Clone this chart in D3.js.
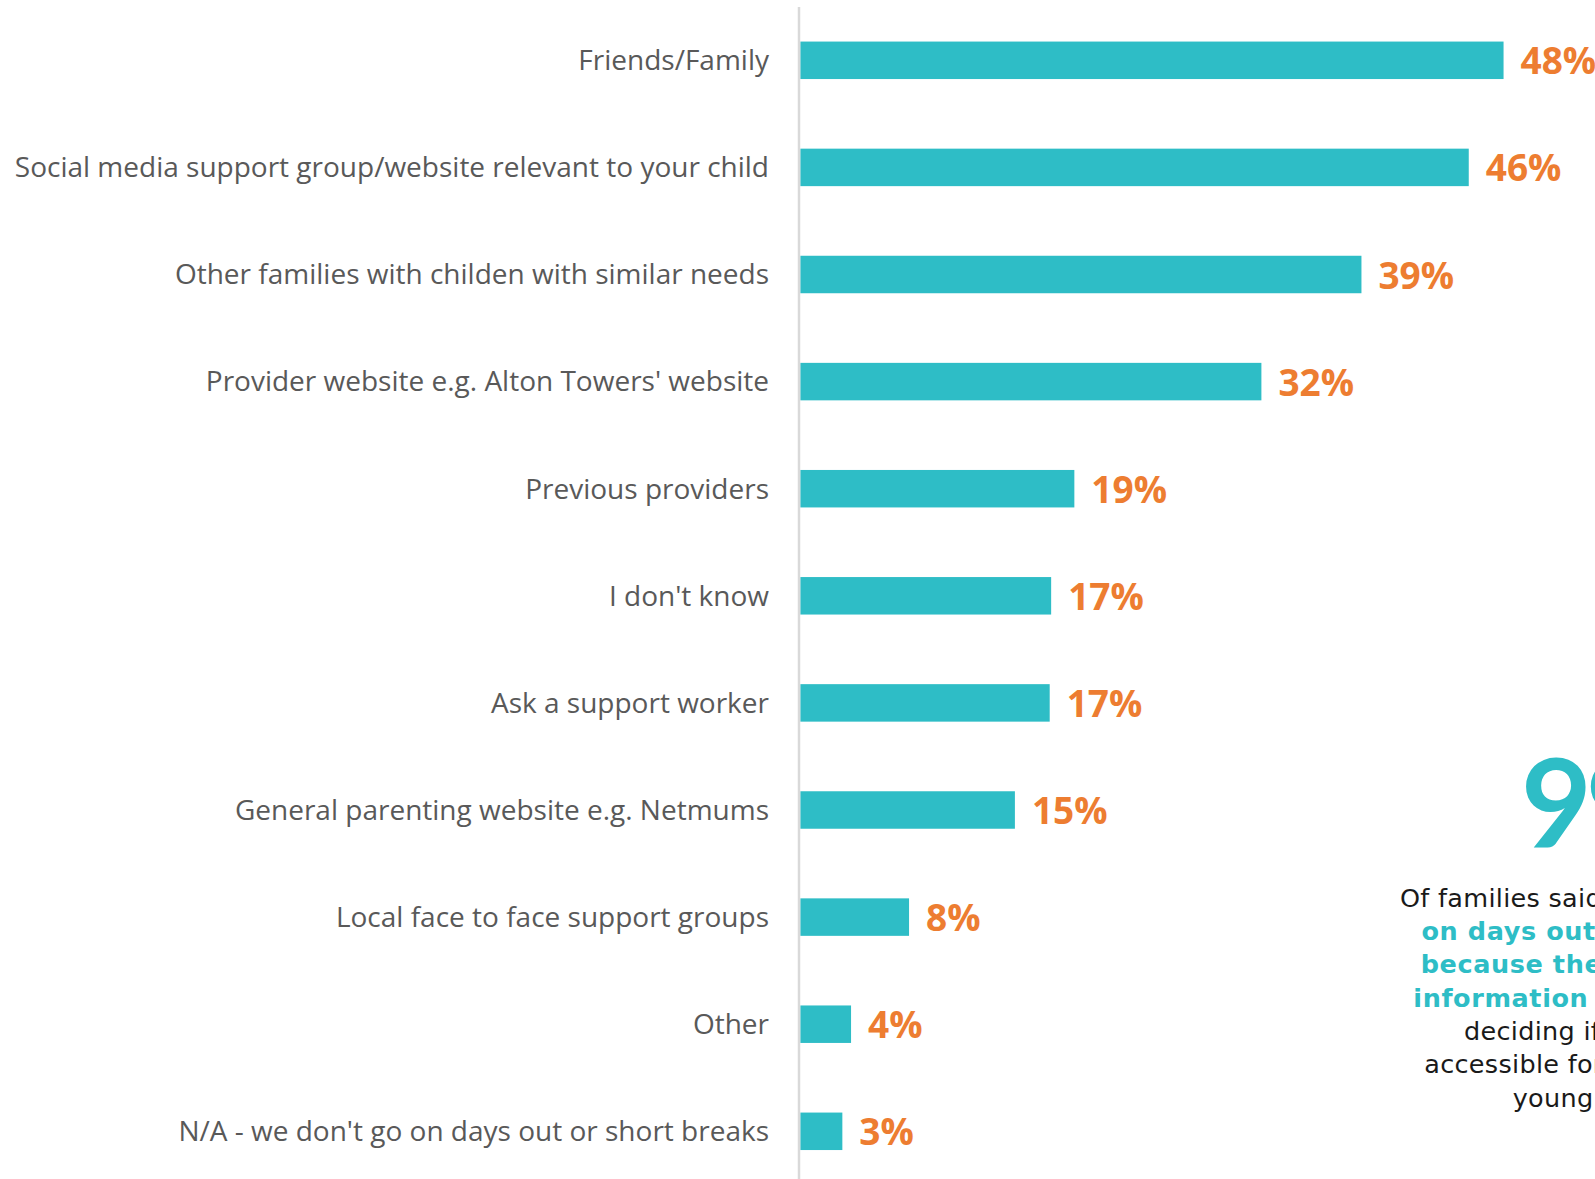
<!DOCTYPE html>
<html>
<head>
<meta charset="utf-8">
<script src="https://cdn.jsdelivr.net/npm/d3@7"></script>
<style>
  html, body { margin: 0; padding: 0; background: #ffffff; overflow: hidden; }
  svg { display: block; }
</style>
</head>
<body>
<svg id="chart" width="1595" height="1179"></svg>
<script>
// ---- data ----
const categories = [
  "Friends/Family",
  "Social media support group/website relevant to your child",
  "Other families with childen with similar needs",
  "Provider website e.g. Alton Towers' website",
  "Previous providers",
  "I don't know",
  "Ask a support worker",
  "General parenting website e.g. Netmums",
  "Local face to face support groups",
  "Other ",
  "N/A - we don't go on days out or short breaks"
];
const values = [48.5, 46.1, 38.7, 31.8, 18.9, 17.3, 17.2, 14.8, 7.5, 3.5, 2.9];
const valueLabels = ["48%", "46%", "39%", "32%", "19%", "17%", "17%", "15%", "8%", "4%", "3%"];

const bigNumber = "99%";
const noteLines = [
  { text: "Of families said they miss out", bold: false },
  { text: "on days out or short breaks", bold: true },
  { text: "because they don't have the", bold: true },
  { text: "information they need when", bold: true },
  { text: "deciding if something is", bold: false },
  { text: "accessible for their child or", bold: false },
  { text: "young person", bold: false }
];

// ---- layout ----
const TEAL = "#2EBDC6";
const ORANGE = "#ED7D31";
const svg = d3.select("#chart");

const x0 = 800.3;
const x = d3.scaleLinear().domain([0, 50]).range([x0, x0 + 725]);
const y = d3.scaleBand()
  .domain(categories)
  .range([6.75, 6.75 + 11 * 107.1])
  .paddingInner(0.65)
  .paddingOuter(0.325);

// bars
svg.append("g").selectAll("rect")
  .data(values)
  .join("rect")
  .attr("x", x(0))
  .attr("y", (d, i) => y(categories[i]))
  .attr("width", d => x(d) - x(0))
  .attr("height", y.bandwidth())
  .attr("fill", TEAL);

// vertical axis line
svg.append("line")
  .attr("x1", 799).attr("x2", 799)
  .attr("y1", 7).attr("y2", 1179)
  .attr("stroke", "#D9D9D9")
  .attr("stroke-width", 2.5);

// category labels
svg.append("g").selectAll("text")
  .data(categories)
  .join("text")
  .attr("x", 769)
  .attr("y", d => y(d) + y.bandwidth() / 2)
  .attr("dy", "0.35em")
  .attr("text-anchor", "end")
  .attr("font-family", "'Open Sans', sans-serif")
  .attr("font-size", 28)
  .attr("fill", "#595959")
  .text(d => d);

// value labels
svg.append("g").selectAll("text")
  .data(values)
  .join("text")
  .attr("x", d => x(d) + 17)
  .attr("y", (d, i) => y(categories[i]) + y.bandwidth() / 2 + 14)
  .attr("font-family", "'Open Sans', sans-serif")
  .attr("font-weight", 700)
  .attr("font-size", 37)
  .attr("fill", ORANGE)
  .text((d, i) => valueLabels[i]);

// big number (cropped at right edge, as in the source)
svg.append("text")
  .attr("x", 1521)
  .attr("y", 847)
  .attr("font-family", "'Lato', sans-serif")
  .attr("font-weight", 700)
  .attr("font-size", 122)
  .attr("letter-spacing", -6)
  .attr("fill", TEAL)
  .text(bigNumber);

// note text
const noteX = [1400, 1421.5, 1420.7, 1413.3, 1464, 1424.3, 1512.7];
svg.append("g").selectAll("text")
  .data(noteLines)
  .join("text")
  .attr("x", (d, i) => noteX[i])
  .attr("y", (d, i) => 906.7 + i * 33.33)
  .attr("font-family", "'DejaVu Sans', sans-serif")
  .attr("font-size", 25.5)
  .attr("font-weight", d => d.bold ? 700 : 400)
  .attr("letter-spacing", d => d.bold ? 0.6 : 0.3)
  .attr("fill", d => d.bold ? TEAL : "#1a1a1a")
  .text(d => d.text);
</script>
</body>
</html>
